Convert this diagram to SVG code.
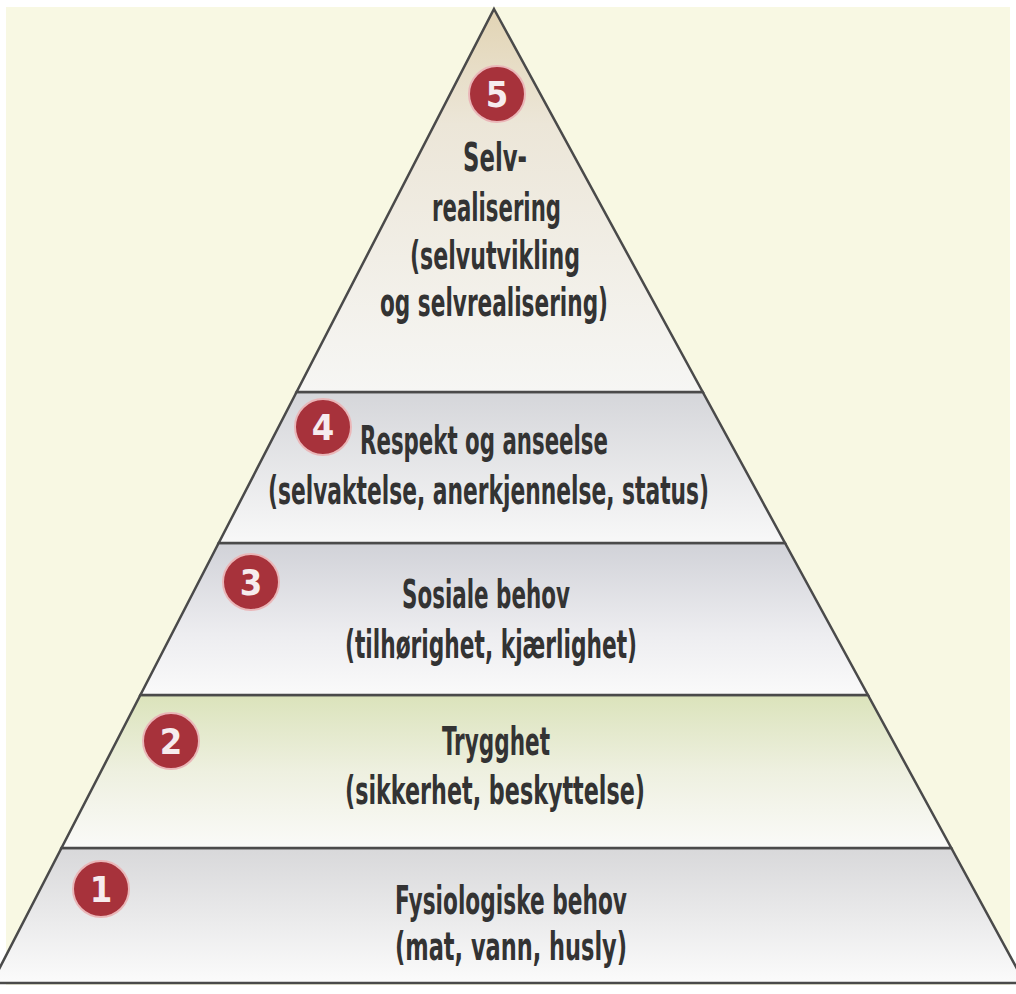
<svg xmlns="http://www.w3.org/2000/svg" width="1016" height="994" viewBox="0 0 1016 994">
  <defs>
    <linearGradient id="g5" x1="0" y1="0" x2="0" y2="1">
      <stop offset="0" stop-color="#e2d4b4"/>
      <stop offset="0.3" stop-color="#ece6d8"/>
      <stop offset="1" stop-color="#f6f6f4"/>
    </linearGradient>
    <linearGradient id="g4" x1="0" y1="0" x2="0" y2="1">
      <stop offset="0" stop-color="#d5d6da"/>
      <stop offset="1" stop-color="#f8f8f8"/>
    </linearGradient>
    <linearGradient id="g3" x1="0" y1="0" x2="0" y2="1">
      <stop offset="0" stop-color="#d1d2d8"/>
      <stop offset="0.6" stop-color="#ededf0"/>
      <stop offset="1" stop-color="#fafafa"/>
    </linearGradient>
    <linearGradient id="g2" x1="0" y1="0" x2="0" y2="1">
      <stop offset="0" stop-color="#dbe3bb"/>
      <stop offset="0.5" stop-color="#eef0e0"/>
      <stop offset="1" stop-color="#fafaf8"/>
    </linearGradient>
    <linearGradient id="g1" x1="0" y1="0" x2="0" y2="1">
      <stop offset="0" stop-color="#d8d8da"/>
      <stop offset="1" stop-color="#fbfbfb"/>
    </linearGradient>
  </defs>
  <style>
    .lvl { stroke: #4a4a4a; stroke-width: 2.5; stroke-linejoin: miter; }
    .badge { fill: #a7323b; stroke: #eab6b8; stroke-width: 2; }
    .num { font-family: "DejaVu Sans Condensed", "Liberation Sans", sans-serif; font-weight: bold; font-size: 36px; fill: #f6ecee; text-anchor: middle; }
    .lbl { font-family: "DejaVu Sans Condensed", "Liberation Sans", sans-serif; font-weight: bold; font-size: 39px; fill: #333333; }
  </style>

  <rect x="0" y="0" width="1016" height="994" fill="#ffffff"/>
  <rect x="6" y="7" width="1004" height="978" fill="#f8f8e3"/>

  <g id="level1">
    <polygon class="lvl" fill="url(#g1)" points="61.5,848 951.3,848 1024.8,983 -8.1,983"/>
    <circle class="badge" cx="101" cy="889" r="28"/>
    <text class="num" x="101" y="902">1</text>
    <text class="lbl" x="395" y="914" textLength="232" lengthAdjust="spacingAndGlyphs">Fysiologiske behov</text>
    <text class="lbl" x="395" y="960" textLength="232" lengthAdjust="spacingAndGlyphs">(mat, vann, husly)</text>
  </g>

  <g id="level2">
    <polygon class="lvl" fill="url(#g2)" points="140.4,695 867.9,695 951.3,848 61.5,848"/>
    <circle class="badge" cx="171" cy="741" r="28"/>
    <text class="num" x="171" y="754">2</text>
    <text class="lbl" x="442" y="755" textLength="108" lengthAdjust="spacingAndGlyphs">Trygghet</text>
    <text class="lbl" x="345" y="804" textLength="300" lengthAdjust="spacingAndGlyphs">(sikkerhet, beskyttelse)</text>
  </g>

  <g id="level3">
    <polygon class="lvl" fill="url(#g3)" points="218.7,543 785,543 867.9,695 140.4,695"/>
    <circle class="badge" cx="251" cy="582" r="28"/>
    <text class="num" x="251" y="595">3</text>
    <text class="lbl" x="402" y="608" textLength="168" lengthAdjust="spacingAndGlyphs">Sosiale behov</text>
    <text class="lbl" x="345" y="658" textLength="292" lengthAdjust="spacingAndGlyphs">(tilhørighet, kjærlighet)</text>
  </g>

  <g id="level4">
    <polygon class="lvl" fill="url(#g4)" points="296.6,392 702.7,392 785,543 218.7,543"/>
    <circle class="badge" cx="323" cy="427" r="28"/>
    <text class="num" x="323" y="440">4</text>
    <text class="lbl" x="360" y="454" textLength="248" lengthAdjust="spacingAndGlyphs">Respekt og anseelse</text>
    <text class="lbl" x="268" y="504" textLength="441" lengthAdjust="spacingAndGlyphs">(selvaktelse, anerkjennelse, status)</text>
  </g>

  <g id="level5">
    <polygon class="lvl" fill="url(#g5)" points="494,9 702.7,392 296.6,392"/>
    <circle class="badge" cx="497" cy="94" r="28"/>
    <text class="num" x="497" y="107">5</text>
    <text class="lbl" x="463" y="171" textLength="64" lengthAdjust="spacingAndGlyphs">Selv-</text>
    <text class="lbl" x="432" y="221" textLength="129" lengthAdjust="spacingAndGlyphs">realisering</text>
    <text class="lbl" x="410" y="269" textLength="170" lengthAdjust="spacingAndGlyphs">(selvutvikling</text>
    <text class="lbl" x="380" y="316" textLength="228" lengthAdjust="spacingAndGlyphs">og selvrealisering)</text>
  </g>
</svg>
